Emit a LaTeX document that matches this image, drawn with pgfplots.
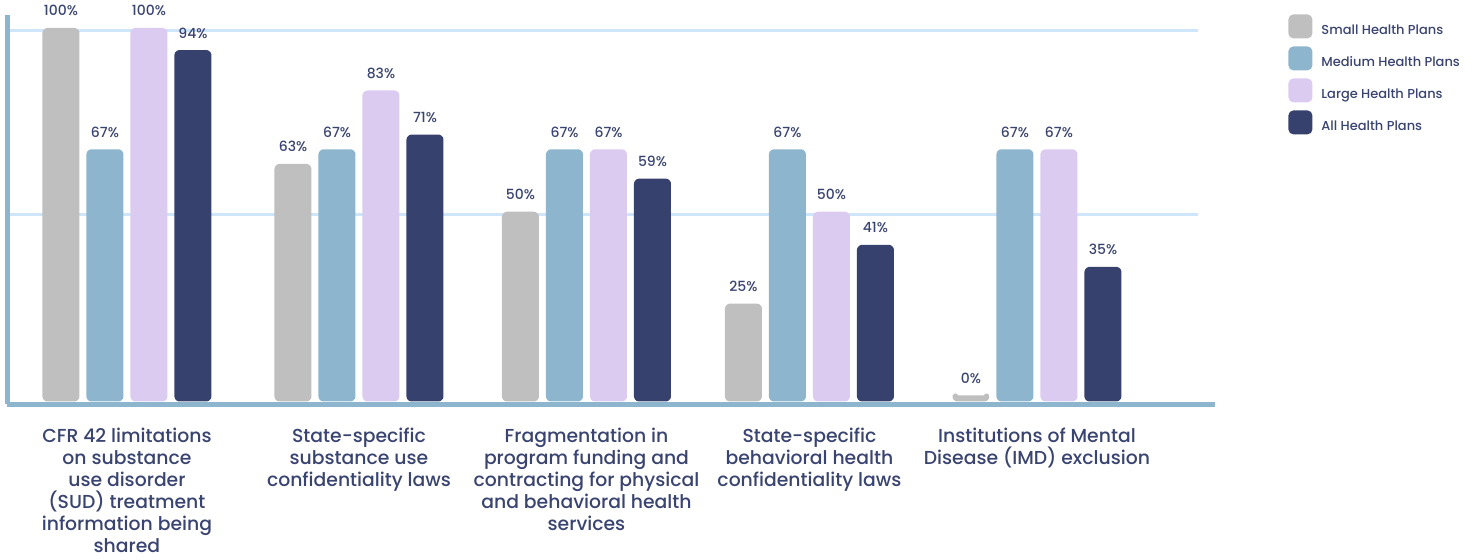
\documentclass[border=0pt]{standalone}
\usepackage{pgfplots}
\pgfplotsset{compat=1.18}
\usepackage{fontspec}
\setmainfont{Poppins Medium}

\definecolor{cSmall}{HTML}{BFBFBF}
\definecolor{cMedium}{HTML}{8DB6CE}
\definecolor{cLarge}{HTML}{DCCBF0}
\definecolor{cAll}{HTML}{36416D}
\definecolor{cAxis}{HTML}{8DB6CE}
\definecolor{cGrid}{HTML}{CFE5FA}
\definecolor{cText}{HTML}{3A4470}

\begin{document}
\begin{tikzpicture}
\useasboundingbox (-3.75pt,-77.5pt) rectangle (735.75pt,202pt);
\begin{axis}[
  scale only axis,
  width=595.25pt, height=194.5pt,
  xmin=-0.525, xmax=4.708,
  ymin=-1.5, ymax=104.35,
  axis x line*=bottom, axis y line*=left,
  axis line style={draw=cAxis, line width=2.5pt},
  x axis line style={shorten >=-8.5pt},
  ytick={50,100}, yticklabels={},
  ymajorgrids, grid style={draw=cGrid, line width=1.5pt},
  major tick length=0pt,
  xtick={0,1.02,2.02,3,4},
  xticklabels={
    {CFR 42 limitations\\on substance\\use disorder\\(SUD) treatment\\information being\\shared},
    {State-specific\\substance use\\confidentiality laws},
    {Fragmentation in\\program funding and\\contracting for physical\\and behavioral health\\services},
    {State-specific\\behavioral health\\confidentiality laws},
    {Institutions of Mental\\Disease (IMD) exclusion}},
  xticklabel style={align=center, font=\fontsize{9.4}{11}\selectfont, text=cText,
    inner sep=0pt, yshift=-12pt},
  ybar, bar width=15.5pt,
  every axis plot/.append style={line width=3pt, rounded corners=1pt, line join=round},
  point meta=rawy,
  nodes near coords={\pgfmathprintnumber{\pgfplotspointmeta}\%},
  nodes near coords style={font=\fontsize{7}{8}\selectfont, text=cText,
    anchor=base, inner sep=0pt, yshift=7.5pt},
  /pgf/number format/.cd, fixed, precision=0, assume math mode=true, /pgfplots/.cd,
  legend image code/.code={\path[#1,draw=none,rounded corners=2.5pt] (0pt,-3.5pt) rectangle (12pt,8.5pt);},
  legend cell align=left,
  legend style={at={(1.0756,1.0026)}, anchor=north west, draw=none, fill=none,
    inner sep=0pt, row sep=4pt, font=\fontsize{6.5}{7}\selectfont, text=cText,
    nodes={inner sep=0pt},
    /tikz/every odd column/.append style={column sep=4.5pt}},
]
\addplot[bar shift=-33pt, fill=cSmall, draw=cSmall]
  coordinates {(0,100) (1.02,63) (2.02,50) (3,25) (4,0)};
\addlegendentry{Small Health Plans}
\addplot[bar shift=-11pt, fill=cMedium, draw=cMedium]
  coordinates {(0,67) (1.02,67) (2.02,67) (3,67) (4,67)};
\addlegendentry{Medium Health Plans}
\addplot[bar shift=11pt, fill=cLarge, draw=cLarge]
  coordinates {(0,100) (1.02,83) (2.02,67) (3,50) (4,67)};
\addlegendentry{Large Health Plans}
\addplot[bar shift=33pt, fill=cAll, draw=cAll]
  coordinates {(0,94) (1.02,71) (2.02,59) (3,41) (4,35)};
\addlegendentry{All Health Plans}
\end{axis}
\end{tikzpicture}
\end{document}
